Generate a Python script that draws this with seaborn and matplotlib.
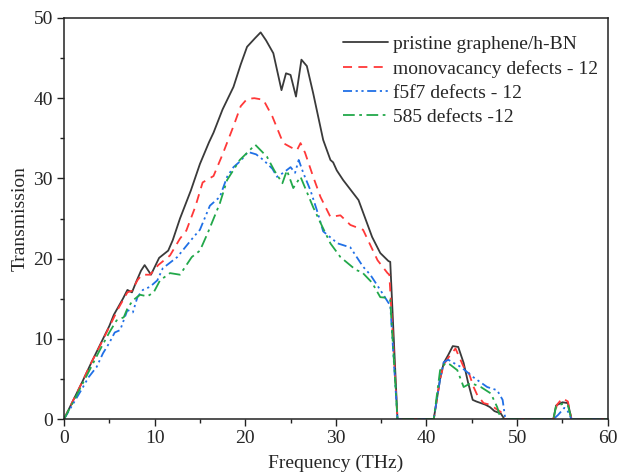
import matplotlib
matplotlib.use("Agg")
import matplotlib.pyplot as plt
import seaborn as sns
import pandas as pd
from matplotlib.ticker import MultipleLocator

sns.set_theme(style="ticks")
plt.rcParams['font.family'] = ['Liberation Serif', 'DejaVu Serif']
plt.rcParams['mathtext.fontset'] = 'stix'

labels = ["pristine graphene/h-BN", "monovacancy defects - 12",
          "f5f7 defects - 12", "585 defects -12"]

black_x = [0, 1, 2, 2.5, 3, 4, 5, 5.5, 6, 6.5, 7, 7.5, 8, 8.5, 8.9, 9.6, 10.5, 11.5, 12, 12.8,
           14, 15, 16, 16.5, 17.5, 18.7, 19.5, 20.2, 21.1, 21.7, 22.3, 23.1, 24, 24.5, 25,
           25.6, 26.2, 26.8, 27.5, 28.6, 29.4, 29.7, 30.1, 30.8, 32.5, 34, 34.9, 35.8, 36.0,
           36.8, 40.8, 41.5, 41.9, 42.4, 42.9, 43.5, 44.1, 44.6, 45.1, 45.5, 46, 46.5, 47,
           47.5, 48.2, 48.6, 54.0, 54.3, 55.0, 55.6, 56.0, 60]
black_y = [0, 2.3, 4.6, 5.8, 7.0, 9.3, 11.6, 13.0, 14.0, 15.0, 16.1, 15.8, 17.2, 18.5, 19.2,
           18.0, 20.1, 21.0, 22.3, 25.0, 28.5, 31.8, 34.5, 35.7, 38.6, 41.4, 44.2, 46.4, 47.5,
           48.2, 47.2, 45.6, 41.0, 43.1, 42.9, 40.2, 44.8, 44.0, 40.6, 34.8, 32.3, 32.0, 31.0,
           29.8, 27.3, 22.7, 20.7, 19.7, 19.6, 0, 0, 5.0, 7.0, 8.0, 9.1, 9.0, 7.0, 4.5, 2.4,
           2.2, 2.0, 1.8, 1.5, 1.0, 0.7, 0, 0, 1.7, 2.1, 2.0, 0, 0]

red_x = [0, 1, 2, 3, 4, 5, 6, 7, 7.5, 8.1, 8.6, 9.5, 10.4, 11.7, 12.8, 13.5, 14.5, 15.3, 16.5,
         17.5, 18.7, 19.5, 20.2, 21, 22, 23, 23.9, 24.2, 25, 25.7, 26.1, 26.6, 27.5, 28.3,
         29.4, 30.5, 31.6, 33, 34.6, 35.7, 35.9, 36.8, 40.8, 41.5, 41.9, 42.5, 43.2, 44.1,
         44.6, 45.2, 45.6, 46.3, 47, 48.2, 48.5, 54, 54.4, 55, 55.6, 56, 60]
red_y = [0, 2.3, 4.6, 7.0, 9.2, 11.5, 13.8, 15.8, 16.0, 17.3, 18.0, 18.0, 19.2, 20.4, 22.5,
         23.5, 26.5, 29.5, 30.3, 33.0, 36.5, 39.0, 39.9, 40.0, 39.8, 37.7, 35.2, 34.4, 33.9,
         33.5, 34.4, 33.2, 30.2, 27.7, 25.2, 25.4, 24.2, 23.6, 19.8, 18.2, 18.0, 0, 0, 5.0,
         6.8, 7.8, 8.8, 6.5, 6.0, 4.0, 3.0, 2.0, 1.8, 0.9, 0, 0, 1.8, 2.6, 2.2, 0, 0]

blue_x = [0, 1, 2, 2.7, 3.6, 4.3, 5, 5.6, 6.2, 7, 7.6, 8.1, 8.7, 9.5, 10.3, 10.9, 12.5, 14.3,
          15, 16.1, 17.2, 18, 18.7, 19.5, 20.3, 21.2, 22, 23, 23.5, 24.2, 25, 25.5, 25.9, 26.4,
          27.2, 28, 28.6, 30.2, 31.6, 33, 33.8, 34.9, 35.8, 36.0, 36.8, 40.8, 41.5, 41.9,
          42.4, 43, 43.8, 45.2, 46.7, 47.8, 48.4, 48.7, 54, 54.5, 55.2, 55.5, 56, 60]
blue_y = [0, 1.9, 3.8, 5.2, 6.5, 8.2, 9.5, 10.8, 11.1, 13.6, 13.3, 15.2, 16.1, 16.5, 17.3,
          18.8, 20.2, 22.7, 23.6, 26.6, 27.7, 30.2, 31.4, 32.2, 33.3, 33.0, 32.3, 31.2, 30.2,
          30.7, 31.4, 30.7, 32.3, 30.7, 28.5, 25.7, 23.4, 21.9, 21.4, 19.0, 18.0, 16.1, 14.5,
          14.3, 0, 0, 5.0, 7.1, 7.4, 7.0, 6.5, 5.2, 4.0, 3.6, 2.4, 0, 0, 0.5, 1.4, 1.2, 0, 0]

green_x = [0, 1, 2, 3, 4, 5, 5.8, 6.6, 7, 7.6, 8.4, 9.2, 9.9, 10.6, 11.7, 12.8, 14.1, 15, 15.9,
           17.2, 18, 19.4, 20.3, 21.1, 22.4, 23.2, 24.1, 24.6, 25.3, 26.1, 27.5, 28.5, 29.4,
           30.5, 32.2, 32.9, 34, 34.9, 35.8, 36.0, 36.8, 40.8, 41.5, 42.1, 42.6, 43.4, 44.1,
           44.9, 46, 47.1, 47.8, 48.2, 54, 54.3, 55, 55.6, 56, 60]
green_y = [0, 2.1, 4.3, 6.5, 8.7, 10.8, 12.3, 12.7, 13.8, 14.8, 15.5, 15.3, 15.8, 17.3, 18.2,
           18.0, 20.2, 21.0, 23.3, 26.9, 29.8, 32.3, 33.3, 34.2, 32.7, 31.0, 29.4, 31.0, 28.8,
           30.2, 26.4, 24.0, 21.9, 20.2, 18.6, 18.3, 17.0, 15.2, 15.1, 14.8, 0, 0, 6.1, 7.0,
           6.8, 6.1, 4.0, 4.5, 4.0, 3.2, 1.5, 0, 0, 1.6, 1.9, 1.7, 0, 0]

series = [(black_x, black_y), (red_x, red_y), (blue_x, blue_y), (green_x, green_y)]
colors = ["#3a3a3a", "#ff3838", "#2070e6", "#22a84a"]
dashes = [None, (5, 3.5), (5, 2, 1.2, 2, 1.2, 2), (6.5, 2.5, 1.5, 2.5)]

fig = plt.figure(figsize=(6.17, 4.72), dpi=100)
ax = fig.add_axes([0.1037, 0.112, 0.8813, 0.85])

for (xs, ys), lab, c, d in zip(series, labels, colors, dashes):
    df = pd.DataFrame({"Frequency": xs, "Transmission": ys})
    kw = {}
    if d is not None:
        kw["dashes"] = d
    sns.lineplot(data=df, x="Frequency", y="Transmission", ax=ax, color=c, lw=1.3,
                 label=lab, estimator=None, sort=False, **kw)

ax.set_xlim(0, 60)
ax.set_ylim(0, 50)
ax.xaxis.set_major_locator(MultipleLocator(10))
ax.xaxis.set_minor_locator(MultipleLocator(5))
ax.yaxis.set_major_locator(MultipleLocator(10))
ax.yaxis.set_minor_locator(MultipleLocator(5))
ax.tick_params(which="major", direction="out", length=5, width=1, labelsize=14,
               color="#222222", pad=3)
ax.tick_params(which="minor", direction="out", length=3, width=1, color="#222222")
for s in ax.spines.values():
    s.set_linewidth(1.1)
    s.set_color("#222222")

ax.set_xlabel("Frequency (THz)", fontsize=14, labelpad=5)
ax.set_ylabel("Transmission", fontsize=14, labelpad=3)

leg = ax.legend(loc="upper left", bbox_to_anchor=(0.492, 0.985), frameon=False, fontsize=14,
                handlelength=2.3, handletextpad=0.27, labelspacing=0.33, borderaxespad=0.2)

fig.savefig("out.png", dpi=100)
